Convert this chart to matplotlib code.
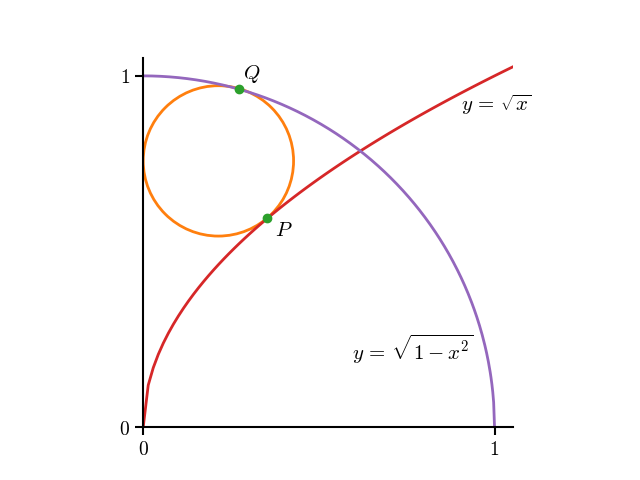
import numpy as np
import matplotlib.pyplot as plt
from matplotlib.patches import Circle

plt.rcParams['mathtext.fontset'] = 'cm'

# circle (tangent to y-axis, unit circle and y = sqrt(x))
r = 0.214
centre = (0.214, 0.758)
P = (0.353, 0.595)
Q = (0.273, 0.962)

tick_pos = [0, 1]
tick_labels = ['$0$', '$1$']

fig, ax = plt.subplots(figsize=(6.4, 4.8), dpi=100)

# curves
xs = np.linspace(0, 1.06, 75)
xq = np.linspace(0, 1, 400)
ax.plot(xs, np.sqrt(xs), color='tab:red', lw=2)
ax.plot(xq, np.sqrt(1 - xq**2), color='tab:purple', lw=2)

# inscribed circle
ax.add_patch(Circle(centre, r, fill=False, edgecolor='tab:orange', lw=2))

# tangent points
ax.plot([P[0], Q[0]], [P[1], Q[1]], 'o', color='tab:green', ms=6, zorder=3)
ax.text(P[0] + 0.022, P[1] - 0.005, '$P$', fontsize=15, va='top')
ax.text(Q[0] + 0.012, Q[1] + 0.012, '$Q$', fontsize=15, va='bottom')
ax.text(1.005, 0.918, r'$y\,=\,\sqrt{x}$', fontsize=15, ha='center', va='center')
ax.text(0.766, 0.222, r'$y\,=\,\sqrt{1-x^2}$', fontsize=15, ha='center', va='center')

# plot setup
ax.set_xlim(0, 1.052)
ax.set_ylim(0, 1.052)
ax.set_aspect('equal')
ax.spines['top'].set_visible(False)
ax.spines['right'].set_visible(False)
ax.spines['left'].set_linewidth(1.5)
ax.spines['bottom'].set_linewidth(1.5)
ax.set_xticks(tick_pos, tick_labels, fontsize=14)
ax.set_yticks(tick_pos, tick_labels, fontsize=14)
ax.tick_params(width=1.5, length=6, pad=3.5)

fig.savefig('out.png')
